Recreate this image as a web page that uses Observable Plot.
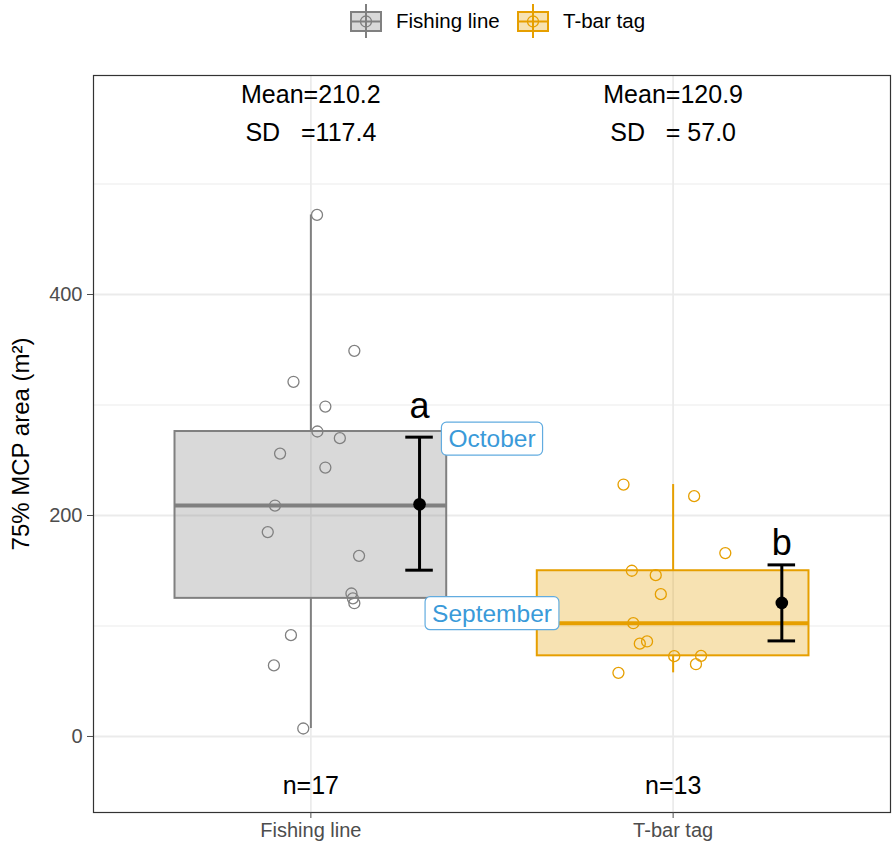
<!DOCTYPE html>
<html><head><meta charset="utf-8">
<script src="https://cdn.jsdelivr.net/npm/d3@7"></script>
<script src="https://cdn.jsdelivr.net/npm/@observablehq/plot@0.6"></script>
<style>
body{margin:0;background:#fff;font-family:"Liberation Sans",Arial,sans-serif;}
#legend{position:relative;height:45px;width:894px;}
.item{position:absolute;top:0;height:42px;display:flex;align-items:center;font-size:20px;color:#000;}
.item svg{margin-right:14px;}
svg text{white-space:pre;}
</style></head><body>
<div id="legend"></div>
<div id="chart"></div>
<script>
// ---- data ----
const groups = ["Fishing line", "T-bar tag"];
const groupColors = ["#808080", "#E69F00"];
const fishingValues = [472, 349, 321, 298.6, 276, 270, 256, 243.4, 209, 185, 163.5, 129.4, 125, 120.6, 91.7, 64.3, 7.2];
const fishingJitter = [0.017, 0.12, -0.048, 0.04, 0.018, 0.08, -0.085, 0.04, -0.099, -0.119, 0.133, 0.112, 0.116, 0.12, -0.055, -0.102, -0.021];
const tbarValues = [228, 217.5, 166, 150, 146, 128.8, 102.5, 86, 84, 72.7, 73, 65.4, 57.6];
const tbarJitter = [-0.137, 0.058, 0.144, -0.114, -0.048, -0.034, -0.11, -0.072, -0.092, 0.003, 0.077, 0.063, -0.151];
const meanValues = [210.2, 120.9];
const sdValues = [117.4, 57.0];
const nValues = [17, 13];
const ciLow = [150.5, 86.5];
const ciHigh = [270.9, 155.3];
const letters = ["a", "b"];
const letterY = [288, 164];
const monthLabels = ["October", "September"];
const monthX = [1.5, 1.5];
const monthY = [269, 111];
const yTicks = [0, 200, 400];
const yMinor = [100, 300, 500];
const meanText = ["Mean=210.2", "Mean=120.9"];
const sdText = ["SD   =117.4", "SD   = 57.0"];
const nText = ["n=17", "n=13"];

// ---- derived tables ----
const values = [fishingValues, tbarValues];
const jitter = [fishingJitter, tbarJitter];
const points = groups.flatMap((g, i) => values[i].map((v, j) => ({g, color: groupColors[i], x: i + 1 + jitter[i][j], y: v})));
const stats = groups.map((g, i) => {
  const s = values[i].slice().sort(d3.ascending);
  const q1 = d3.quantile(s, 0.25), q3 = d3.quantile(s, 0.75), med = d3.quantile(s, 0.5);
  const iqr = q3 - q1;
  const lo = d3.min(s.filter(v => v >= q1 - 1.5 * iqr));
  const hi = d3.max(s.filter(v => v <= q3 + 1.5 * iqr));
  return {g, x: i + 1, color: groupColors[i], q1, q3, med, lo, hi,
    mean: meanValues[i], cl: ciLow[i], ch: ciHigh[i], letter: letters[i], ly: letterY[i],
    meanT: meanText[i], sdT: sdText[i], nT: nText[i]};
});
const months = monthLabels.map((m, i) => ({m, x: monthX[i], y: monthY[i]}));
const BW = 0.375, EB = 0.3, CAP = 0.038;

// ---- legend ----
const legend = d3.select("#legend");
const legendLeft = [350, 517];
groups.forEach((g, i) => {
  const c = groupColors[i];
  const item = legend.append("div").attr("class", "item").style("left", legendLeft[i] + "px");
  const s = item.append("svg").attr("width", 32).attr("height", 40);
  s.append("line").attr("x1", 16).attr("x2", 16).attr("y1", 3).attr("y2", 37).attr("stroke", c).attr("stroke-width", 2);
  s.append("rect").attr("x", 1).attr("y", 11).attr("width", 30).attr("height", 19).attr("fill", c).attr("fill-opacity", 0.3).attr("stroke", c).attr("stroke-width", 2);
  s.append("line").attr("x1", 1).attr("x2", 31).attr("y1", 20.5).attr("y2", 20.5).attr("stroke", c).attr("stroke-width", 2);
  s.append("circle").attr("cx", 16).attr("cy", 20.5).attr("r", 5.5).attr("fill", "none").attr("stroke", c).attr("stroke-width", 1.3);
  item.append("span").text(g).style("font-size", "20.5px");
});

// ---- chart ----
const chart = Plot.plot({
  width: 894, height: 803,
  marginLeft: 93, marginRight: 4, marginTop: 30, marginBottom: 36,
  x: {domain: [0.4, 2.6]},
  y: {domain: [-68.8, 598.2]},
  color: {type: "identity"},
  style: {fontFamily: "'Liberation Sans', Arial, sans-serif", background: "#fff"},
  marks: [
    Plot.ruleY(yMinor, {stroke: "#ebebeb", strokeWidth: 1}),
    Plot.ruleY(yTicks, {stroke: "#ebebeb", strokeWidth: 1.8}),
    Plot.ruleX([1, 2], {stroke: "#ebebeb", strokeWidth: 1.8}),
    Plot.ruleX(stats, {x: "x", y1: "q3", y2: "hi", stroke: "color", strokeWidth: 2}),
    Plot.ruleX(stats, {x: "x", y1: "lo", y2: "q1", stroke: "color", strokeWidth: 2}),
    Plot.rect(stats, {x1: d => d.x - BW, x2: d => d.x + BW, y1: "q1", y2: "q3", fill: "color", fillOpacity: 0.3, stroke: "color", strokeWidth: 2}),
    Plot.ruleY(stats, {y: "med", x1: d => d.x - BW, x2: d => d.x + BW, stroke: "color", strokeWidth: 4}),
    Plot.dot(points, {x: "x", y: "y", r: 5.5, stroke: "color", fill: "none", strokeWidth: 1.3}),
    Plot.ruleX(stats, {x: d => d.x + EB, y1: "cl", y2: "ch", stroke: "#000", strokeWidth: 3}),
    Plot.ruleY(stats, {y: "cl", x1: d => d.x + EB - CAP, x2: d => d.x + EB + CAP, stroke: "#000", strokeWidth: 3}),
    Plot.ruleY(stats, {y: "ch", x1: d => d.x + EB - CAP, x2: d => d.x + EB + CAP, stroke: "#000", strokeWidth: 3}),
    Plot.dot(stats, {x: d => d.x + EB, y: "mean", r: 6.3, fill: "#000"}),
    Plot.text(stats, {x: d => d.x + EB, y: "ly", text: "letter", fontSize: 36, lineAnchor: "bottom", fill: "#000"}),
    Plot.text(stats, {x: "x", y: () => 573, text: "meanT", fontSize: 25, lineAnchor: "bottom", fill: "#000"}),
    Plot.text(stats, {x: "x", y: () => 539, text: "sdT", fontSize: 25, lineAnchor: "bottom", fill: "#000"}),
    Plot.text(stats, {x: "x", y: () => -52, text: "nT", fontSize: 25, lineAnchor: "bottom", fill: "#000"}),
    Plot.text(months, {x: "x", y: "y", text: "m", fontSize: 24.5, fill: "#3a9ad9"}),
    Plot.frame({stroke: "#333", strokeWidth: 1.2}),
    Plot.axisX({ticks: [1, 2], tickFormat: d => groups[d - 1], tickSize: 6, tickPadding: 4, fontSize: 20, color: "#4d4d4d", label: null}),
    Plot.axisY({ticks: yTicks, tickSize: 6, tickPadding: 5, fontSize: 20, color: "#4d4d4d", label: null}),
    Plot.text(["75% MCP area (m²)"], {frameAnchor: "left", textAnchor: "middle", rotate: -90, dx: -72, fontSize: 24, fill: "#000"})
  ]
});
document.getElementById("chart").append(chart);

// rounded label boxes behind month labels
const NS = "http://www.w3.org/2000/svg";
chart.querySelectorAll("text").forEach(t => {
  if (!monthLabels.includes(t.textContent)) return;
  const b = t.getBBox();
  const r = document.createElementNS(NS, "rect");
  r.setAttribute("x", b.x - 7);
  r.setAttribute("y", b.y - 3);
  r.setAttribute("width", b.width + 14);
  r.setAttribute("height", b.height + 6);
  r.setAttribute("rx", 5);
  r.setAttribute("fill", "#fff");
  r.setAttribute("stroke", "#62ace0");
  r.setAttribute("stroke-width", 1.2);
  if (t.getAttribute("transform")) r.setAttribute("transform", t.getAttribute("transform"));
  t.parentNode.insertBefore(r, t);
});
</script>
</body></html>
